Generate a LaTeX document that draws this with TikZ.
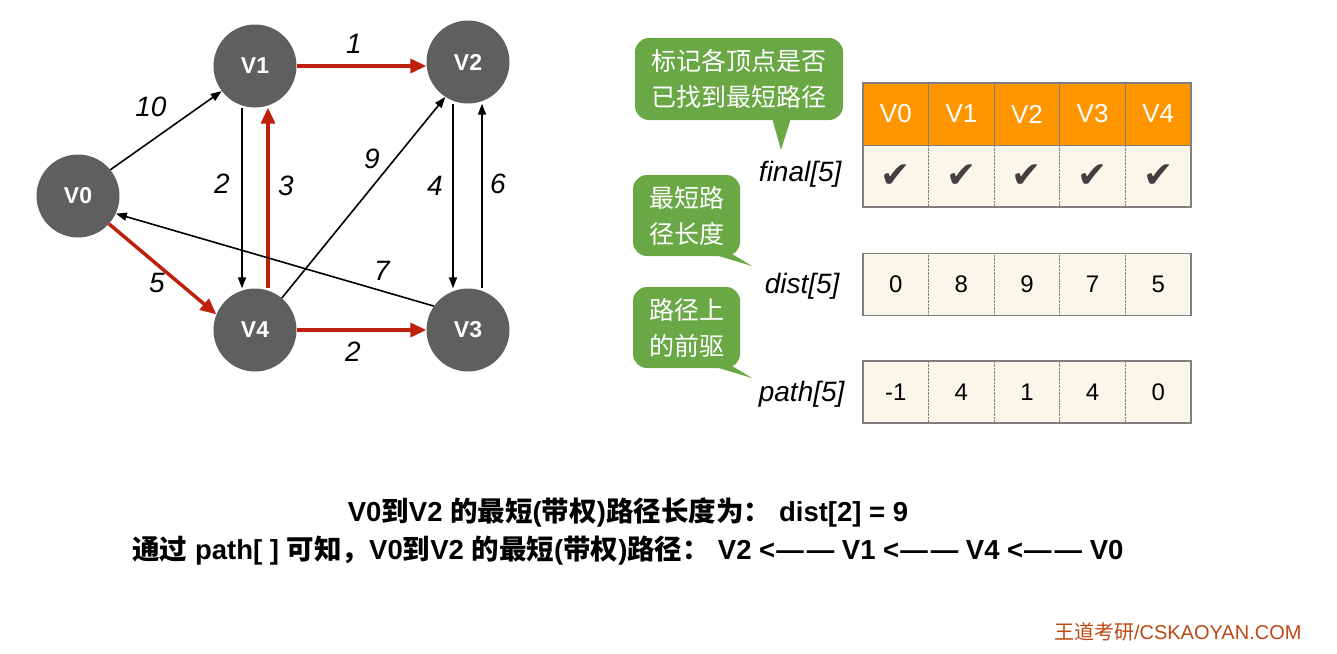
\documentclass[tikz,border=0pt]{standalone}
\usepackage{fontspec}
\setmainfont{Liberation Sans}
\newfontfamily\cjk{Noto Sans CJK SC}
\newfontfamily\symfont{DejaVu Sans}
\usetikzlibrary{arrows.meta}
\definecolor{vgray}{RGB}{95,95,95}
\definecolor{pathred}{RGB}{190,32,12}
\definecolor{hdorange}{RGB}{255,150,0}
\definecolor{cellbg}{RGB}{250,246,233}
\definecolor{tipgreen}{RGB}{106,168,70}
\definecolor{gridgray}{RGB}{128,128,128}
\definecolor{markgray}{RGB}{64,64,64}
\definecolor{markbrown}{RGB}{190,72,18}
\newcommand{\back}{<\kern1pt—\kern3pt—}
\tikzset{
  vtx/.style={circle,fill=vgray,minimum size=83pt,inner sep=0pt,text=white,
    font=\fontsize{23}{23}\selectfont\bfseries},
  plain/.style={-{Triangle[length=11pt,width=8pt]},line width=1.6pt},
  hot/.style={-{Triangle[length=16pt,width=14pt]},line width=3.5pt,pathred},
  wt/.style={font=\fontsize{28}{28}\selectfont\itshape},
  cell/.style={minimum width=65.6pt,minimum height=62pt,inner sep=0pt,fill=cellbg,
    font=\fontsize{24}{24}\selectfont},
  hdcell/.style={cell,fill=hdorange,text=white,font=\fontsize{26}{26}\selectfont},
  arrname/.style={anchor=east,font=\fontsize{28}{28}\selectfont\itshape},
  tip/.style={fill=tipgreen,rounded corners=14pt},
  tiptext/.style={text=white,align=left,font=\fontsize{25}{36}\selectfont\cjk},
  note/.style={font=\fontsize{27.5}{27.5}\selectfont\bfseries}
}
\begin{document}
\begin{tikzpicture}[x=1pt,y=-1pt]
  \useasboundingbox (0,0) rectangle (1337,653);

  % graph
  \node[vtx] (v0) at (78,196) {V0};
  \node[vtx] (v1) at (255,66) {V1};
  \node[vtx] (v2) at (468,62) {V2};
  \node[vtx] (v4) at (255,330) {V4};
  \node[vtx] (v3) at (468,330) {V3};

  \draw[plain] (v0.39) -- (v1.217);
  \draw[hot] (v1.east) -- (v1.east -| v2.west);
  \draw[plain] ([xshift=-13pt]v1.south) -- ([xshift=-13pt]v4.north);
  \draw[hot] ([xshift=13pt]v4.north) -- ([xshift=13pt]v1.south);
  \draw[plain] (v4.50) -- (v2.237);
  \draw[plain] ([xshift=-15pt]v2.south) -- ([xshift=-15pt]v3.north);
  \draw[plain] ([xshift=14pt]v3.north) -- ([xshift=14pt]v2.south);
  \draw[plain] (v3.145) -- (v0.-25);
  \draw[hot] (v0.-42) -- (v4.158);
  \draw[hot] (v4) -- (v3);

  \node[wt] (w01) at (151,107) {10};
  \node[wt] (w12) at (354,44) {1};
  \node[wt] (w14) at (222,184) {2};
  \node[wt] (w41) at (286,186) {3};
  \node[wt] (w42) at (372,159) {9};
  \node[wt] (w23) at (435,186) {4};
  \node[wt] (w32) at (498,184) {6};
  \node[wt] (w30) at (382,271) {7};
  \node[wt] (w04) at (157,283) {5};
  \node[wt] (w43) at (353,352) {2};

  % arrays
  \foreach \i/\d/\p in {0/0/-1,1/8/4,2/9/1,3/7/4,4/5/0}{
    \node[hdcell] (h\i) at (895.8+65.6*\i,114) {V\i};
    \node[cell] (f\i) at (895.8+65.6*\i,176) {\symfont\fontsize{36}{36}\selectfont\color{markgray}✔};
    \node[cell] (d\i) at (895.8+65.6*\i,284.5) {\d};
    \node[cell] (p\i) at (895.8+65.6*\i,392) {\p};
  }
  \foreach \i in {1,...,4}{
    \draw[gridgray,line width=1pt] (h\i.north west) -- (h\i.south west);
    \draw[gridgray,densely dotted] (f\i.north west) -- (f\i.south west);
    \draw[gridgray,densely dotted] (d\i.north west) -- (d\i.south west);
    \draw[gridgray,densely dotted] (p\i.north west) -- (p\i.south west);
  }
  \draw[gridgray,line width=1.5pt] (h0.north west) rectangle (f4.south east);
  \draw[gridgray,line width=1pt] (h0.south west) -- (h4.south east);
  \draw[gridgray,line width=1.5pt] (d0.north west) rectangle (d4.south east);
  \draw[gridgray,line width=1.5pt] (p0.north west) rectangle (p4.south east);

  \node[arrname] (nf) at (845,174) {final[5]};
  \node[arrname] (nd) at (843,286) {dist[5]};
  \node[arrname] (np) at (848,394) {path[5]};

  % notes
  \fill[tip] (635,38) rectangle (843,120);
  \fill[tipgreen] (772,118) -- (791,118) -- (781,150) -- cycle;
  \node[tiptext] (t1) at (739,79) {标记各顶点是否\\已找到最短路径};
  \fill[tip] (633,175) rectangle (740,256);
  \fill[tipgreen] (712,254) -- (732,254) -- (752,266) -- cycle;
  \node[tiptext] (t2) at (686.5,215.5) {最短路\\径长度};
  \fill[tip] (633,287) rectangle (740,368);
  \fill[tipgreen] (712,366) -- (732,366) -- (752,378) -- cycle;
  \node[tiptext] (t3) at (686.5,327.5) {路径上\\的前驱};

  % result
  \node[note] (r1) at (628,512) {V0{\cjk 到}V2 {\cjk 的最短}({\cjk 带权}){\cjk 路径长度为：}\hspace{8pt}dist[2] = 9};
  \node[note] (r2) at (628,551) {{\cjk 通过} path[ ] {\cjk 可知，}V0{\cjk 到}V2 {\cjk 的最短}({\cjk 带权}){\cjk 路径：}\hspace{8pt}V2 \back{} V1 \back{} V4 \back{} V0};

  \node[anchor=east,text=markbrown,font=\fontsize{20}{20}\selectfont] (src) at (1305,632) {{\cjk 王道考研}/CSKAOYAN.COM};
\end{tikzpicture}
\end{document}
